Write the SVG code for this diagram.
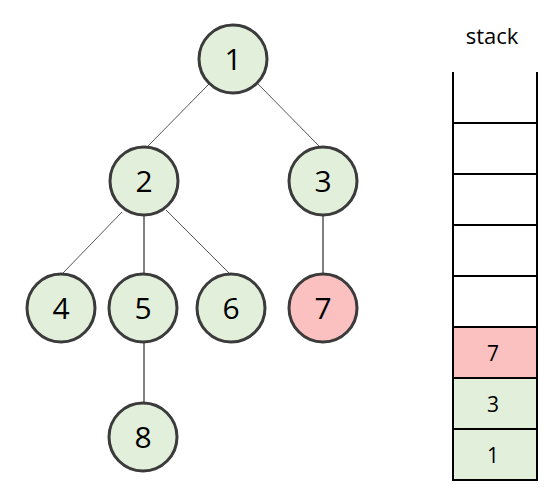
<svg xmlns="http://www.w3.org/2000/svg" width="544" height="489" viewBox="0 0 544 489">
<style>
.n circle{fill:#e2efda;stroke:#3b3b3b;stroke-width:3}
.n.r circle{fill:#fbc0c0}
.n text{font-family:"Open Sans","Liberation Sans",sans-serif;font-size:30px;text-anchor:middle;fill:#000}
.e{stroke:#555;stroke-width:1}
.ev{stroke:#000;stroke-width:1}
.st text{font-family:"Open Sans","Liberation Sans",sans-serif;font-size:21px;text-anchor:middle;fill:#000}
.st line{stroke:#000;stroke-width:2}
.st rect{stroke:#222;stroke-width:1.5}
</style>
<rect width="544" height="489" fill="#fff"/>
<g id="connectors">
<line class="e" x1="209" y1="84" x2="148" y2="146"/>
<line class="e" x1="258" y1="84" x2="320" y2="147"/>
<line class="e" x1="122" y1="212" x2="63" y2="273"/>
<line class="ev" x1="144" y1="216" x2="144" y2="274"/>
<line class="e" x1="166" y1="210" x2="230" y2="274"/>
<line class="ev" x1="323" y1="216" x2="323" y2="274"/>
<line class="ev" x1="144" y1="343" x2="144" y2="403"/>
</g>
<g id="node1" class="n"><circle cx="233" cy="59" r="34"/><text x="233" y="69.5">1</text></g>
<g id="node2" class="n"><circle cx="144" cy="181" r="34"/><text x="144" y="191.5">2</text></g>
<g id="node3" class="n"><circle cx="323" cy="181" r="34"/><text x="323" y="191.5">3</text></g>
<g id="node4" class="n"><circle cx="61" cy="308" r="34"/><text x="61" y="318.5">4</text></g>
<g id="node5" class="n"><circle cx="143" cy="308" r="34"/><text x="143" y="318.5">5</text></g>
<g id="node6" class="n"><circle cx="231" cy="308" r="34"/><text x="231" y="318.5">6</text></g>
<g id="node7" class="n r"><circle cx="323" cy="308" r="34"/><text x="323" y="318.5">7</text></g>
<g id="node8" class="n"><circle cx="143" cy="437" r="34"/><text x="143" y="447.5">8</text></g>
<g id="stack" class="st">
<text x="492" y="44" style="font-size:22px">stack</text>
<rect x="453" y="327" width="84" height="51" fill="#fbc0c0"/>
<rect x="453" y="378" width="84" height="51" fill="#e2efda"/>
<rect x="453" y="429" width="84" height="51" fill="#e2efda"/>
<line x1="453" y1="72" x2="453" y2="481"/>
<line x1="537" y1="72" x2="537" y2="481"/>
<line x1="453" y1="123" x2="537" y2="123"/>
<line x1="453" y1="174" x2="537" y2="174"/>
<line x1="453" y1="225" x2="537" y2="225"/>
<line x1="453" y1="276" x2="537" y2="276"/>
<line x1="453" y1="327" x2="537" y2="327"/>
<line x1="453" y1="378" x2="537" y2="378"/>
<line x1="453" y1="429" x2="537" y2="429"/>
<line x1="453" y1="480" x2="537" y2="480"/>
<text x="493" y="361">7</text>
<text x="493" y="412">3</text>
<text x="493" y="463">1</text>
</g>
</svg>
